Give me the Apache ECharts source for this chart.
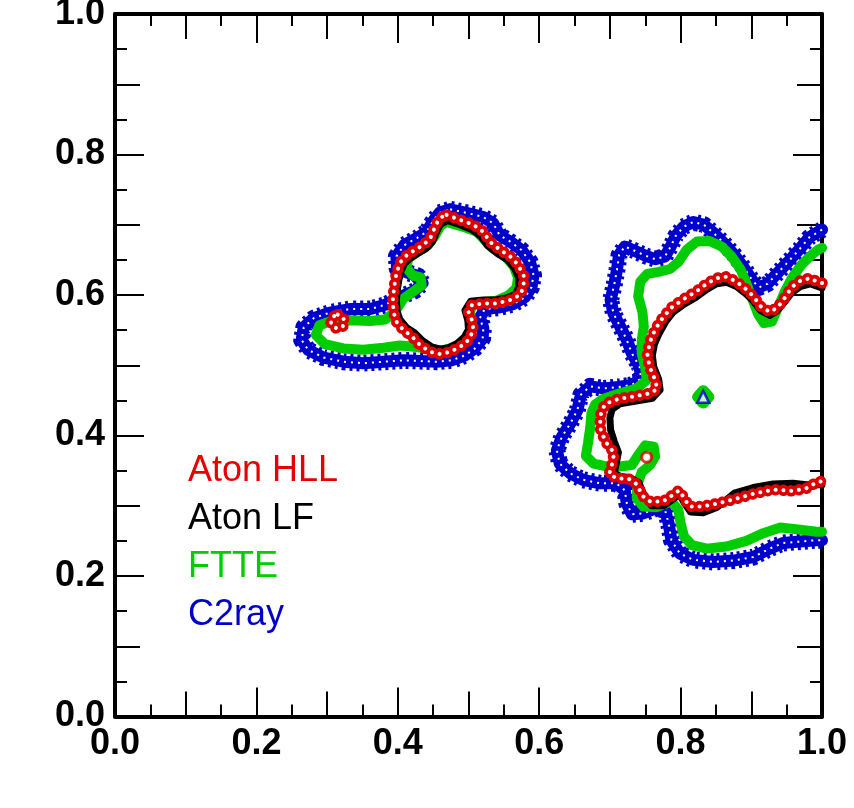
<!DOCTYPE html>
<html><head><meta charset="utf-8">
<script src="https://cdn.jsdelivr.net/npm/echarts/dist/echarts.min.js"></script>
<style>html,body{margin:0;padding:0;background:#fff}#c{width:854px;height:808px}</style>
</head><body><div id="c"></div><script>
// ---- tick labels ----
const tickLabels = ['0.0','0.2','0.4','0.6','0.8','1.0'];

// ---- legend ----
const legendNames = ['Aton HLL','Aton LF','FTTE','C2ray'];
const legendColors = ['#e60000','#000000','#00cc00','#0000c8'];

// ---- Aton HLL (red circles) ----
const hllLeft = [[0.469,0.714],[0.488,0.707],[0.507,0.700],[0.521,0.690],[0.530,0.676],[0.545,0.664],[0.559,0.655],[0.570,0.643],[0.578,0.628],[0.578,0.612],[0.573,0.600],[0.559,0.593],[0.540,0.588],[0.521,0.588],[0.505,0.586],[0.500,0.576],[0.505,0.564],[0.507,0.550],[0.500,0.536],[0.488,0.526],[0.474,0.519],[0.460,0.516],[0.446,0.519],[0.431,0.529],[0.420,0.541],[0.408,0.550],[0.398,0.562],[0.394,0.576],[0.393,0.593],[0.395,0.612],[0.398,0.631],[0.404,0.647],[0.413,0.657],[0.424,0.664],[0.436,0.671],[0.446,0.681],[0.451,0.693],[0.456,0.704],[0.462,0.711],[0.469,0.714]];
const hllRing = [[0.315,0.572],[0.322,0.569],[0.325,0.562],[0.322,0.555],[0.315,0.552],[0.308,0.555],[0.305,0.562],[0.308,0.569],[0.315,0.572]];
const hllRight = [[1.0,0.617],[0.995,0.618],[0.983,0.624],[0.969,0.620],[0.957,0.611],[0.948,0.597],[0.937,0.582],[0.926,0.576],[0.913,0.584],[0.904,0.597],[0.893,0.608],[0.879,0.619],[0.865,0.626],[0.851,0.624],[0.837,0.616],[0.822,0.605],[0.804,0.594],[0.787,0.582],[0.775,0.568],[0.764,0.551],[0.757,0.534],[0.753,0.516],[0.756,0.498],[0.764,0.479],[0.767,0.466],[0.756,0.460],[0.736,0.456],[0.712,0.452],[0.693,0.445],[0.686,0.427],[0.687,0.408],[0.694,0.391],[0.706,0.375],[0.703,0.359],[0.699,0.345],[0.710,0.339],[0.727,0.338],[0.739,0.330],[0.745,0.315],[0.757,0.306],[0.775,0.306],[0.787,0.314],[0.798,0.322],[0.805,0.311],[0.812,0.299],[0.830,0.299],[0.851,0.303],[0.875,0.309],[0.903,0.317],[0.931,0.323],[0.959,0.321],[0.978,0.325],[0.992,0.333],[1.0,0.335]];
const hllDot = [[0.752,0.369]];

// ---- Aton LF (black) ----
const lfLeft = [[0.470,0.706],[0.488,0.700],[0.505,0.693],[0.518,0.683],[0.527,0.670],[0.541,0.659],[0.555,0.650],[0.565,0.638],[0.571,0.625],[0.571,0.611],[0.566,0.601],[0.555,0.596],[0.539,0.593],[0.521,0.593],[0.503,0.591],[0.495,0.578],[0.499,0.564],[0.500,0.551],[0.494,0.540],[0.484,0.531],[0.472,0.525],[0.460,0.523],[0.448,0.526],[0.435,0.535],[0.424,0.546],[0.412,0.554],[0.403,0.565],[0.399,0.577],[0.398,0.593],[0.400,0.612],[0.403,0.630],[0.409,0.644],[0.417,0.652],[0.428,0.659],[0.440,0.666],[0.449,0.676],[0.455,0.690],[0.460,0.700],[0.470,0.706]];
const lfRight = [[1.0,0.610],[0.983,0.616],[0.969,0.612],[0.957,0.603],[0.947,0.590],[0.936,0.577],[0.926,0.571],[0.913,0.578],[0.903,0.591],[0.892,0.602],[0.879,0.612],[0.865,0.618],[0.851,0.616],[0.837,0.608],[0.822,0.597],[0.805,0.587],[0.789,0.575],[0.779,0.562],[0.770,0.546],[0.763,0.530],[0.760,0.514],[0.762,0.498],[0.769,0.480],[0.771,0.465],[0.760,0.453],[0.737,0.449],[0.714,0.445],[0.703,0.437],[0.700,0.425],[0.701,0.408],[0.706,0.392],[0.712,0.376],[0.709,0.360],[0.706,0.347],[0.714,0.342],[0.728,0.340],[0.741,0.333],[0.748,0.316],[0.759,0.300],[0.776,0.300],[0.789,0.309],[0.798,0.316],[0.806,0.303],[0.814,0.291],[0.832,0.290],[0.852,0.298],[0.876,0.318],[0.903,0.326],[0.931,0.331],[0.959,0.332],[0.978,0.330],[1.0,0.330]];

// ---- FTTE (green) ----
const ftteLeft = [[0.469,0.704],[0.493,0.697],[0.512,0.690],[0.523,0.678],[0.535,0.666],[0.552,0.655],[0.564,0.641],[0.570,0.625],[0.568,0.610],[0.556,0.599],[0.540,0.592],[0.521,0.590],[0.506,0.587],[0.502,0.576],[0.505,0.562],[0.503,0.548],[0.495,0.535],[0.481,0.526],[0.462,0.521],[0.443,0.523],[0.427,0.526],[0.403,0.528],[0.380,0.525],[0.351,0.522],[0.323,0.524],[0.297,0.530],[0.284,0.543],[0.289,0.557],[0.306,0.563],[0.332,0.564],[0.361,0.563],[0.382,0.565],[0.396,0.576],[0.408,0.595],[0.422,0.605],[0.434,0.614],[0.432,0.625],[0.421,0.628],[0.412,0.639],[0.415,0.652],[0.429,0.662],[0.443,0.671],[0.453,0.685],[0.460,0.698],[0.469,0.704]];
const ftteRight = [[1.0,0.667],[0.995,0.665],[0.984,0.656],[0.971,0.643],[0.958,0.625],[0.948,0.606],[0.938,0.583],[0.929,0.562],[0.918,0.560],[0.910,0.572],[0.902,0.593],[0.894,0.614],[0.885,0.636],[0.872,0.655],[0.858,0.669],[0.841,0.677],[0.823,0.676],[0.809,0.665],[0.797,0.647],[0.785,0.637],[0.769,0.633],[0.753,0.630],[0.743,0.619],[0.740,0.598],[0.746,0.576],[0.748,0.555],[0.745,0.536],[0.745,0.517],[0.750,0.496],[0.752,0.479],[0.738,0.467],[0.714,0.460],[0.690,0.452],[0.679,0.444],[0.674,0.432],[0.672,0.410],[0.669,0.389],[0.666,0.371],[0.677,0.360],[0.695,0.356],[0.714,0.356],[0.731,0.358],[0.740,0.372],[0.750,0.386],[0.762,0.384],[0.764,0.370],[0.757,0.358],[0.745,0.348],[0.739,0.330],[0.738,0.311],[0.747,0.299],[0.766,0.298],[0.787,0.306],[0.797,0.294],[0.800,0.275],[0.805,0.256],[0.816,0.244],[0.837,0.239],[0.865,0.242],[0.893,0.250],[0.917,0.261],[0.941,0.269],[0.969,0.266],[0.992,0.263],[1.0,0.263]];
const ftteBlob = [[0.832,0.463],[0.839,0.455],[0.832,0.447],[0.825,0.455],[0.832,0.463]];

// ---- C2ray (blue triangles) ----
const c2Left = [[0.474,0.722],[0.497,0.717],[0.521,0.711],[0.535,0.702],[0.544,0.685],[0.559,0.676],[0.575,0.664],[0.587,0.647],[0.592,0.628],[0.589,0.611],[0.580,0.597],[0.563,0.587],[0.542,0.582],[0.523,0.580],[0.516,0.567],[0.521,0.553],[0.520,0.538],[0.509,0.524],[0.495,0.514],[0.476,0.507],[0.455,0.505],[0.431,0.506],[0.408,0.507],[0.380,0.505],[0.351,0.503],[0.323,0.505],[0.295,0.511],[0.273,0.522],[0.264,0.536],[0.267,0.554],[0.281,0.567],[0.304,0.575],[0.332,0.580],[0.361,0.580],[0.382,0.586],[0.403,0.597],[0.424,0.606],[0.435,0.617],[0.429,0.627],[0.413,0.632],[0.399,0.638],[0.398,0.655],[0.409,0.671],[0.427,0.681],[0.441,0.690],[0.449,0.704],[0.459,0.717],[0.474,0.722]];
const c2Right = [[1.0,0.693],[0.995,0.690],[0.982,0.682],[0.968,0.665],[0.951,0.646],[0.936,0.630],[0.923,0.616],[0.911,0.611],[0.902,0.620],[0.890,0.638],[0.876,0.657],[0.861,0.674],[0.847,0.688],[0.833,0.700],[0.818,0.704],[0.804,0.697],[0.793,0.684],[0.786,0.669],[0.778,0.655],[0.764,0.651],[0.750,0.656],[0.735,0.663],[0.721,0.669],[0.713,0.657],[0.710,0.636],[0.706,0.614],[0.701,0.593],[0.705,0.574],[0.715,0.554],[0.724,0.536],[0.731,0.517],[0.742,0.498],[0.744,0.481],[0.731,0.472],[0.712,0.469],[0.691,0.467],[0.672,0.470],[0.659,0.458],[0.654,0.436],[0.644,0.417],[0.632,0.398],[0.625,0.379],[0.629,0.360],[0.644,0.346],[0.662,0.337],[0.686,0.332],[0.709,0.332],[0.721,0.322],[0.724,0.303],[0.731,0.288],[0.747,0.289],[0.764,0.296],[0.778,0.294],[0.783,0.275],[0.787,0.251],[0.799,0.232],[0.818,0.223],[0.846,0.220],[0.875,0.222],[0.903,0.227],[0.926,0.239],[0.945,0.247],[0.969,0.249],[0.992,0.251],[1.0,0.251]];
const c2Dot = [[0.832,0.455]];

// ---- styles ----
const RED = '#dd0000', GREEN = '#00cc00', BLUE = '#0000cc', BLACK = '#000000';

function line(data, color, width, dash, cap, z) {
  return {
    type: 'line', data: data, xAxisIndex: 0, yAxisIndex: 0,
    symbol: 'none', showSymbol: false, smooth: false, silent: true,
    animation: false, clip: true, z: z,
    lineStyle: { color: color, width: width, type: dash || 'solid', cap: cap || 'butt', join: 'round' }
  };
}
function blue(data) {
  return [
    line(data, BLUE, 17, [3, 4], 'butt', 2),
    line(data, BLUE, 12, 'solid', 'round', 2),
    line(data, '#ffffff', 2, [2, 5], 'butt', 2)
  ];
}
function red(data) {
  return [
    line(data, RED, 11.5, [0.01, 7.8], 'round', 5),
    line(data, '#ffffff', 4, [0.01, 7.8], 'round', 5)
  ];
}

const series = [].concat(
  blue(c2Left), blue(c2Right),
  [line(ftteLeft, GREEN, 10, 'solid', 'round', 3),
   line(ftteRight, GREEN, 10, 'solid', 'round', 3),
   line(ftteBlob, GREEN, 12, 'solid', 'round', 3),
   line(lfLeft, BLACK, 7, 'solid', 'round', 4),
   line(lfRight, BLACK, 7, 'solid', 'round', 4)],
  red(hllLeft), red(hllRing), red(hllRight),
  [{ type: 'scatter', data: c2Dot, symbol: 'triangle', symbolSize: 12, silent: true, animation: false, z: 6,
     itemStyle: { color: '#ffffff', borderColor: BLUE, borderWidth: 2.5 } },
   { type: 'scatter', data: hllDot, symbol: 'circle', symbolSize: 10, silent: true, animation: false, z: 6,
     itemStyle: { color: '#ffffff', borderColor: RED, borderWidth: 3 } }]
);

const labelFmt = function (v) {
  const k = Math.round(v * 10);
  return k % 2 === 0 ? tickLabels[k / 2] : '';
};
const tickStyle = { color: '#000', width: 2 };
const labelStyle = { show: true, formatter: labelFmt, fontFamily: 'Liberation Sans', fontWeight: 'bold', fontSize: 36, color: '#000' };

function mkAxis(pos, interval, len, withLine, withLabel, margin) {
  return {
    type: 'value', position: pos, min: 0, max: 1, interval: interval,
    axisLine: { show: withLine, onZero: false, lineStyle: { color: '#000', width: 4 } },
    axisTick: { show: true, inside: true, length: len, lineStyle: tickStyle },
    minorTick: { show: withLine, splitNumber: 2, length: 12, lineStyle: tickStyle },
    splitLine: { show: false }, minorSplitLine: { show: false },
    axisLabel: withLabel ? Object.assign({ margin: margin }, labelStyle) : { show: false },
    axisPointer: { show: false }
  };
}

const chart = echarts.init(document.getElementById('c'), null, { renderer: 'canvas' });
chart.setOption({
  backgroundColor: '#ffffff',
  animation: false,
  grid: { left: 115, right: 32, top: 14, bottom: 91.5, containLabel: false, outerBoundsMode: 'none' },
  xAxis: [
    mkAxis('bottom', 0.1, 25, true, true, 10),
    mkAxis('bottom', 0.2, 29, false, false),
    mkAxis('top', 0.1, 25, true, false),
    mkAxis('top', 0.2, 29, false, false)
  ],
  yAxis: [
    mkAxis('left', 0.1, 25, true, true, 10),
    mkAxis('left', 0.2, 29, false, false),
    mkAxis('right', 0.1, 25, true, false),
    mkAxis('right', 0.2, 29, false, false)
  ],
  series: series,
  graphic: legendNames.map(function (name, i) {
    return {
      type: 'text', left: 188, top: 453 + i * 48, silent: true, z: 10,
      style: { text: name, fill: legendColors[i], fontFamily: 'Liberation Sans', fontSize: 36 }
    };
  })
});
</script></body></html>
